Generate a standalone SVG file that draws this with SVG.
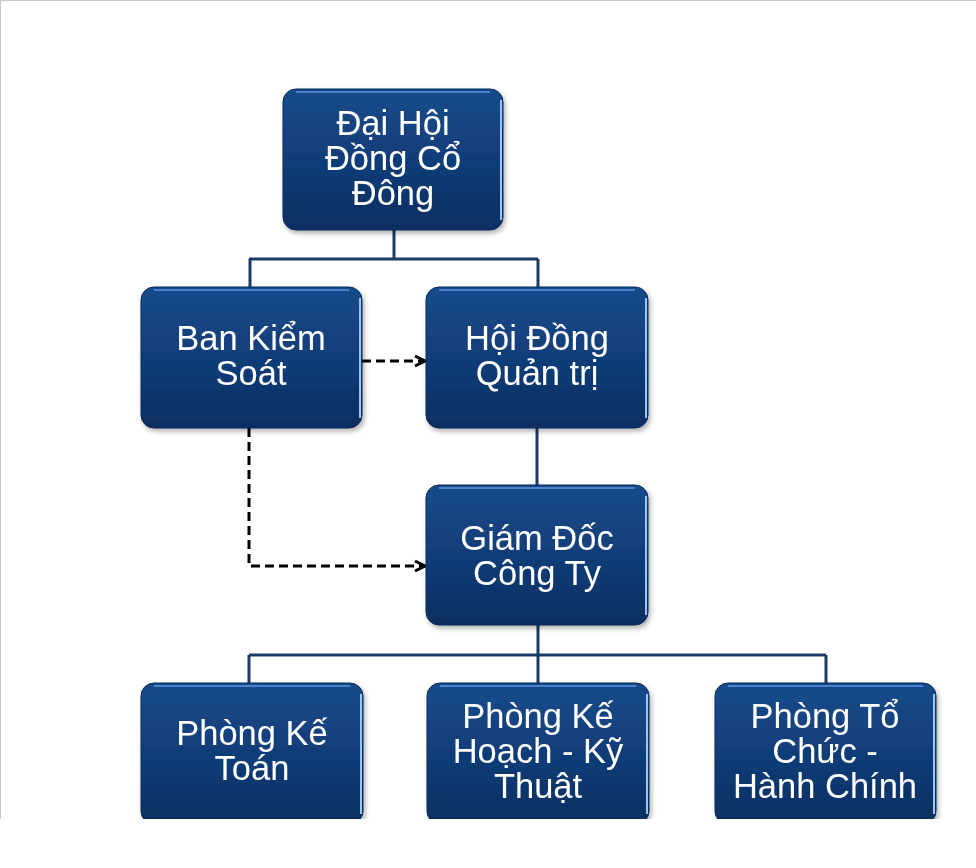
<svg xmlns="http://www.w3.org/2000/svg" width="976" height="868" viewBox="0 0 976 868">
<style>
.box{fill:url(#bg);stroke:#0a2a58;stroke-width:1}
.hl{fill:none;stroke:#5a8fd6;stroke-width:2;opacity:.8}
.hr{fill:none;stroke:#9cc4f2;stroke-width:2}
.t{font-family:"Liberation Sans",Arial,sans-serif;font-size:34.5px;fill:#fff;text-anchor:middle}
.c{fill:none;stroke:#1b3a66;stroke-width:3}
.d{fill:none;stroke:#000;stroke-width:3;stroke-dasharray:9 5}
</style>
<defs>
<linearGradient id="bg" x1="0" y1="0" x2="0" y2="1">
<stop offset="0" stop-color="#194b8b"/>
<stop offset="0.5" stop-color="#113d78"/>
<stop offset="1" stop-color="#0a2e61"/>
</linearGradient>
<filter id="sh" x="-10%" y="-10%" width="125%" height="125%">
<feDropShadow dx="2" dy="3" stdDeviation="2.5" flood-color="#000" flood-opacity="0.3"/>
</filter>
<marker id="ar" viewBox="0 0 14 14" refX="12" refY="7" markerWidth="14" markerHeight="14" markerUnits="userSpaceOnUse" orient="auto">
<path d="M2 2 L12 7 L2 12" fill="none" stroke="#000" stroke-width="3"/>
</marker>
<clipPath id="cp"><rect x="0" y="0" width="976" height="819"/></clipPath>
</defs>
<rect x="0" y="0" width="976" height="868" fill="#fff"/>
<path d="M0.5 819 V0.5 H976" fill="none" stroke="#c8c8c8" stroke-width="1"/>
<g id="connectors">
<path class="c" d="M394 230 V259 M249 259 H538 M250 259 V287 M538 259 V287"/>
<path class="c" d="M537 428 V485"/>
<path class="c" d="M538 625 V655 M249 655 H826 M249 655 V683 M538 655 V683 M826 655 V683"/>
<path class="d" d="M362 361 H425" marker-end="url(#ar)"/>
<path class="d" d="M249 428 V566 H425" marker-end="url(#ar)"/>
</g>
<g id="n1" filter="url(#sh)">
<rect class="box" x="283" y="89" width="220" height="141" rx="13"/>
<path class="hl" d="M296 92 H490"/>
<path class="hr" d="M501 100 V220"/>
<text class="t" x="393" y="135">Đại Hội</text>
<text class="t" x="393" y="170">Đồng Cổ</text>
<text class="t" x="393" y="205">Đông</text>
</g>
<g id="n2" filter="url(#sh)">
<rect class="box" x="141" y="287" width="221" height="141" rx="13"/>
<path class="hl" d="M154 290 H349"/>
<path class="hr" d="M360 298 V418"/>
<text class="t" x="251" y="350">Ban Kiểm</text>
<text class="t" x="251" y="385">Soát</text>
</g>
<g id="n3" filter="url(#sh)">
<rect class="box" x="426" y="287" width="222" height="141" rx="13"/>
<path class="hl" d="M439 290 H635"/>
<path class="hr" d="M646 298 V418"/>
<text class="t" x="537" y="350">Hội Đồng</text>
<text class="t" x="537" y="385">Quản trị</text>
</g>
<g id="n4" filter="url(#sh)">
<rect class="box" x="426" y="485" width="222" height="140" rx="13"/>
<path class="hl" d="M439 488 H635"/>
<path class="hr" d="M646 496 V615"/>
<text class="t" x="537" y="550">Giám Đốc</text>
<text class="t" x="537" y="585">Công Ty</text>
</g>
<g clip-path="url(#cp)">
<g id="n5" filter="url(#sh)">
<rect class="box" x="141" y="683" width="222" height="141" rx="13"/>
<path class="hl" d="M154 686 H350"/>
<path class="hr" d="M361 694 V814"/>
<text class="t" x="252" y="745">Phòng Kế</text>
<text class="t" x="252" y="780">Toán</text>
</g>
<g id="n6" filter="url(#sh)">
<rect class="box" x="427" y="683" width="222" height="141" rx="13"/>
<path class="hl" d="M440 686 H636"/>
<path class="hr" d="M647 694 V814"/>
<text class="t" x="538" y="728">Phòng Kế</text>
<text class="t" x="538" y="763">Hoạch - Kỹ</text>
<text class="t" x="538" y="798">Thuật</text>
</g>
<g id="n7" filter="url(#sh)">
<rect class="box" x="715" y="683" width="221" height="141" rx="13"/>
<path class="hl" d="M728 686 H923"/>
<path class="hr" d="M934 694 V814"/>
<text class="t" x="825" y="728">Phòng Tổ</text>
<text class="t" x="825" y="763">Chức -</text>
<text class="t" x="825" y="798">Hành Chính</text>
</g>
</g>
</svg>
